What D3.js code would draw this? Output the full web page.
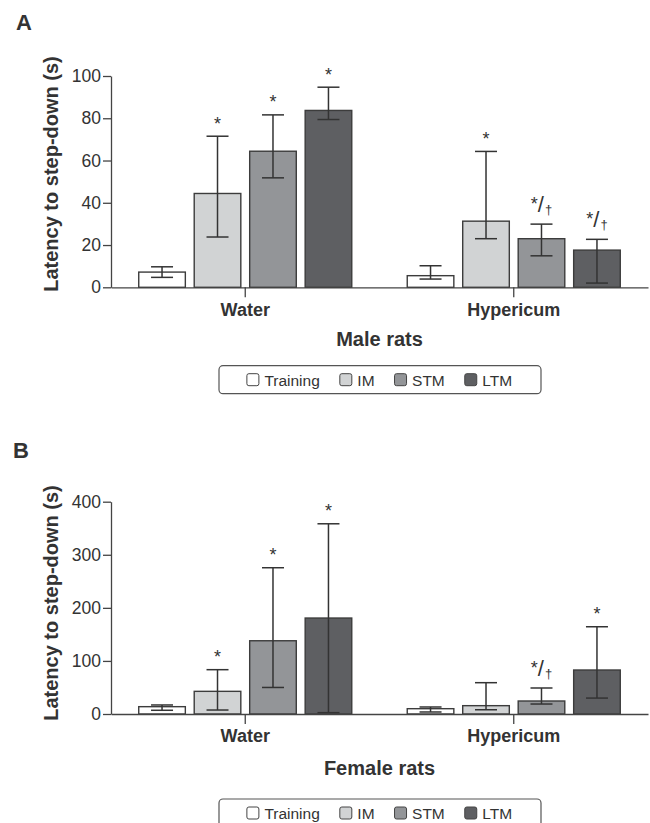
<!DOCTYPE html>
<html>
<head>
<meta charset="utf-8">
<script src="https://cdn.jsdelivr.net/npm/d3@7"></script>
<style>
  body { margin: 0; background: #fff; }
  svg { display: block; font-family: 'Liberation Sans', Arial, Helvetica, sans-serif; }
</style>
</head>
<body>
<svg id="chart" width="650" height="823"></svg>
<script>
// data
const groups = ['Water', 'Hypericum'];
const series = ['Training', 'IM', 'STM', 'LTM'];

const maleMean = [[7.2, 44.4, 64.4, 83.7], [5.5, 31.3, 23.0, 17.6]];
const maleLow  = [[4.7, 23.8, 51.8, 79.4], [3.9, 23.0, 14.9, 2.0]];
const maleHigh = [[9.7, 71.5, 81.6, 94.7], [10.2, 64.3, 29.9, 22.7]];
const maleMarks = [['', '*', '*', '*'], ['', '*', '*/†', '*/†']];
const maleTicks = [0, 20, 40, 60, 80, 100];

const femaleMean = [[13.8, 42.7, 138, 180.8], [10, 15.7, 24.5, 82.9]];
const femaleLow  = [[7, 7.5, 50, 2.5], [3.8, 8, 18.8, 30]];
const femaleHigh = [[17, 83.5, 275.6, 358.4], [13.2, 59, 49, 164.4]];
const femaleMarks = [['', '*', '*', '*'], ['', '', '*/†', '*']];
const femaleTicks = [0, 100, 200, 300, 400];

const colors = ['#ffffff', '#d1d3d4', '#939598', '#5e5f62'];
const ink = '#333';

const svg = d3.select('#chart');

const color = d3.scaleOrdinal().domain(series).range(colors);

// builds rows {group, key, mean, low, high, mark}
function buildRows(mean, low, high, marks) {
    const rows = [];
    groups.forEach((g, gi) => {
        series.forEach((s, si) => {
            rows.push({ group: g, key: s, mean: mean[gi][si], low: low[gi][si], high: high[gi][si], mark: marks[gi][si] });
        });
    });
    return rows;
}

function drawPanel(opt) {
    const rows = buildRows(opt.mean, opt.low, opt.high, opt.marks);
    const left = 111, right = 648;

    const y = d3.scaleLinear()
        .domain([0, opt.ticks[opt.ticks.length - 1]])
        .range([opt.bottom, opt.top]);

    const x0 = d3.scaleBand()
        .domain(groups)
        .range([left, right]);

    const x1 = d3.scaleBand()
        .domain(series)
        .range([0, x0.bandwidth()])
        .paddingInner(0.16)
        .paddingOuter(0.5);

    const g = svg.append('g');

    // panel letter
    g.append('text')
        .attr('x', opt.letterX).attr('y', opt.letterY)
        .attr('font-size', 22).attr('font-weight', 'bold').attr('fill', ink)
        .text(opt.letter);

    // y axis
    const ya = g.append('g')
        .attr('transform', `translate(${left},0)`)
        .call(d3.axisLeft(y).tickValues(opt.ticks).tickSize(8).tickPadding(2).tickSizeOuter(0));
    ya.select('.domain').attr('stroke', '#444').attr('stroke-width', 1.3);
    ya.selectAll('.tick line').attr('stroke', '#444').attr('stroke-width', 1.3);
    ya.selectAll('.tick text').attr('font-size', 17.5).attr('fill', ink)
        .attr('font-family', "'Liberation Sans', Arial, sans-serif");

    g.append('text')
        .attr('transform', `translate(${opt.labelX},${opt.labelCy}) rotate(-90)`)
        .attr('text-anchor', 'middle')
        .attr('font-size', 20).attr('font-weight', 'bold').attr('fill', ink)
        .text('Latency to step-down (s)');

    // bars
    const bars = g.append('g')
        .selectAll('g')
        .data(groups)
        .join('g')
        .attr('transform', d => `translate(${x0(d)},0)`);

    bars.selectAll('rect')
        .data(d => rows.filter(r => r.group === d))
        .join('rect')
        .attr('x', d => x1(d.key))
        .attr('y', d => y(d.mean))
        .attr('width', x1.bandwidth())
        .attr('height', d => y(0) - y(d.mean))
        .attr('fill', d => color(d.key))
        .attr('stroke', '#3c3c3c')
        .attr('stroke-width', 1.4);

    // error bars
    const cap = 11;
    const err = bars.selectAll('g.err')
        .data(d => rows.filter(r => r.group === d))
        .join('g')
        .attr('class', 'err')
        .attr('transform', d => `translate(${x1(d.key) + x1.bandwidth() / 2},0)`);
    err.append('line')
        .attr('y1', d => y(d.low)).attr('y2', d => y(d.high));
    err.append('line')
        .attr('x1', -cap).attr('x2', cap)
        .attr('y1', d => y(d.high)).attr('y2', d => y(d.high));
    err.append('line')
        .attr('x1', -cap).attr('x2', cap)
        .attr('y1', d => y(d.low)).attr('y2', d => y(d.low));
    err.selectAll('line').attr('stroke', '#333').attr('stroke-width', 1.5);

    // significance marks
    err.filter(d => d.mark === '*')
        .append('text')
        .attr('y', d => y(d.high) - 6.5)
        .attr('text-anchor', 'middle')
        .attr('font-size', 18).attr('fill', ink)
        .text('*');

    const dual = err.filter(d => d.mark === '*/†')
        .append('text')
        .attr('y', d => y(d.high) - 12)
        .attr('text-anchor', 'middle')
        .attr('fill', ink);
    dual.append('tspan').attr('font-size', 18).attr('dy', -2).text('*');
    dual.append('tspan').attr('font-size', 22).attr('dy', 2).text('/');
    dual.append('tspan').attr('font-size', 13).attr('dx', 1).attr('dy', 2)
        .attr('font-family', "'Liberation Sans', Arial, sans-serif").attr('fill', ink).text('†');

    // x axis
    const xa = g.append('g')
        .attr('transform', `translate(0,${y(0)})`)
        .call(d3.axisBottom(x0).tickSize(10).tickSizeOuter(0));
    xa.select('.domain').attr('stroke', '#444').attr('stroke-width', 1.3);
    xa.selectAll('.tick line').attr('stroke', '#444').attr('stroke-width', 1.3);
    xa.selectAll('.tick text')
        .attr('y', opt.groupBase - y(0)).attr('dy', 0)
        .attr('font-size', 18).attr('font-weight', 'bold').attr('fill', ink)
        .attr('font-family', "'Liberation Sans', Arial, sans-serif");

    g.append('text')
        .attr('x', (left + right) / 2).attr('y', opt.titleBase)
        .attr('text-anchor', 'middle')
        .attr('font-size', 20).attr('font-weight', 'bold').attr('fill', ink)
        .text(opt.title);

    // legend
    const lg = g.append('g');
    lg.append('rect')
        .attr('x', 219).attr('y', opt.legendTop)
        .attr('width', 322).attr('height', 28).attr('rx', 4)
        .attr('fill', '#fff').attr('stroke', '#555').attr('stroke-width', 1.2);

    const items = lg.selectAll('g.item')
        .data(series)
        .join('g')
        .attr('class', 'item');
    items.append('rect')
        .attr('width', 12).attr('height', 12).attr('rx', 2)
        .attr('y', opt.legendTop + 8)
        .attr('fill', d => color(d)).attr('stroke', '#444').attr('stroke-width', 1);
    items.append('text')
        .attr('x', 17.5).attr('y', opt.legendTop + 20)
        .attr('font-size', 15.5).attr('fill', ink)
        .text(d => d);

    const gap = 20;
    const widths = [];
    items.select('text').each(function () { widths.push(17.5 + this.getComputedTextLength()); });
    const total = d3.sum(widths) + gap * (widths.length - 1);
    let cx = (left + right) / 2 - total / 2;
    items.attr('transform', (d, i) => {
        const t = `translate(${cx},0)`;
        cx += widths[i] + gap;
        return t;
    });
}

drawPanel({
    letter: 'A', letterX: 16, letterY: 30,
    mean: maleMean, low: maleLow, high: maleHigh, marks: maleMarks, ticks: maleTicks,
    top: 76, bottom: 287.3,
    labelX: 58, labelCy: 174,
    groupBase: 315.7, titleBase: 346, title: 'Male rats',
    legendTop: 365.7
});

drawPanel({
    letter: 'B', letterX: 13, letterY: 458,
    mean: femaleMean, low: femaleLow, high: femaleHigh, marks: femaleMarks, ticks: femaleTicks,
    top: 501.7, bottom: 714,
    labelX: 58, labelCy: 603,
    groupBase: 741.7, titleBase: 775, title: 'Female rats',
    legendTop: 799
});
</script>
</body>
</html>
